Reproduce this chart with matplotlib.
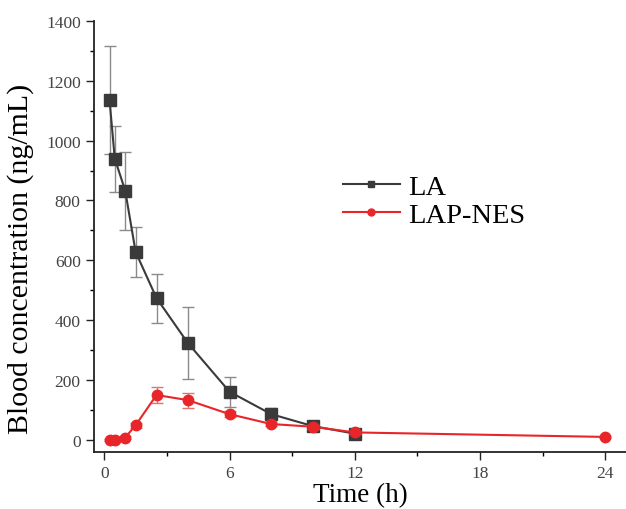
import matplotlib
matplotlib.use("Agg")
import matplotlib.pyplot as plt
from matplotlib.lines import Line2D
from matplotlib.ticker import MultipleLocator

plt.rcParams['font.family'] = ['Liberation Serif', 'DejaVu Serif']

# Sampling times (h)
time_la = [0.25, 0.5, 1, 1.5, 2.5, 4, 6, 8, 10, 12]
time_nes = [0.25, 0.5, 1, 1.5, 2.5, 4, 6, 8, 10, 12, 24]

# Blood concentration (ng/mL)
la_mean = [1135, 940, 833, 628, 474, 324, 161, 86, 46, 21]
la_err = [180, 110, 130, 85, 82, 120, 50, 20, 8, 6]
nes_mean = [0, 0, 8, 49, 150, 133, 86, 53, 44, 25, 10]
nes_err = [3, 3, 4, 8, 28, 25, 10, 8, 6, 4, 3]

black = '#3a3a3a'
red = '#e8262a'

fig = plt.figure(figsize=(6.26, 5.10), dpi=100)
ax = fig.add_axes([0.150, 0.112, 0.850, 0.845])

ax.errorbar(time_la, la_mean, yerr=la_err, color=black, marker='s', markersize=8,
            linewidth=1.5, ecolor='#8a8a8a', elinewidth=1, capsize=4, capthick=1,
            zorder=3)
ax.errorbar(time_nes, nes_mean, yerr=nes_err, color=red, marker='o', markersize=7.5,
            linewidth=1.5, ecolor='#e87070', elinewidth=1, capsize=4, capthick=1,
            zorder=4)

ax.set_xlim(-0.5, 25)
ax.set_ylim(-40, 1400)
ax.xaxis.set_major_locator(MultipleLocator(6))
ax.xaxis.set_minor_locator(MultipleLocator(3))
ax.yaxis.set_major_locator(MultipleLocator(200))
ax.yaxis.set_minor_locator(MultipleLocator(100))
ax.tick_params(which='major', direction='out', length=6, width=1, labelsize=12.5,
               colors='#222222', labelcolor='#444444')
ax.tick_params(which='minor', direction='out', length=3, width=1)
for s in ['top', 'right']:
    ax.spines[s].set_visible(False)
for s in ['left', 'bottom']:
    ax.spines[s].set_linewidth(1.3)
    ax.spines[s].set_color('#222222')

ax.set_xlabel('Time (h)', fontsize=19.5, labelpad=1)
ax.set_ylabel('Blood concentration (ng/mL)', fontsize=21.5)
ax.yaxis.set_label_coords(-0.113, 0.45)

handles = [
    Line2D([], [], color=black, marker='s', markersize=5, linewidth=1.5),
    Line2D([], [], color=red, marker='o', markersize=5, linewidth=1.5),
]
ax.legend(handles, ['LA', 'LAP-NES'], loc='upper left', bbox_to_anchor=(0.42, 0.705),
          frameon=False, fontsize=20.5, handlelength=2.0, handletextpad=0.3,
          labelspacing=0.1)

fig.savefig('out.png', dpi=100)
